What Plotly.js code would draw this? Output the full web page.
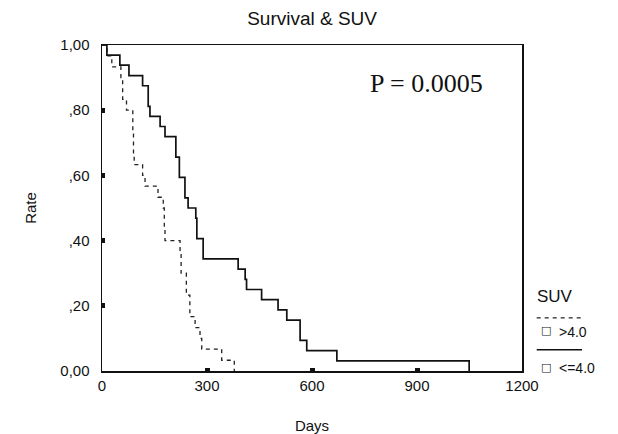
<!DOCTYPE html>
<html>
<head>
<meta charset="utf-8">
<script src="https://cdn.plot.ly/plotly-3.0.1.min.js"></script>
<style>html,body{margin:0;padding:0;background:#fff;}#chart{width:618px;height:434px;}</style>
</head>
<body>
<div id="chart"></div>
<script>
// Group SUV > 4.0 (dashed)
const daysHigh = [0, 14, 28, 54, 59, 70, 88, 90, 92, 116, 123, 160, 175, 178, 180, 223, 226, 241, 251, 266, 280, 285, 342, 378];
const rateHigh = [1.0, 0.967, 0.933, 0.9, 0.833, 0.8, 0.733, 0.667, 0.633, 0.6, 0.567, 0.533, 0.5, 0.433, 0.4, 0.367, 0.3, 0.233, 0.167, 0.133, 0.1, 0.067, 0.033, 0.0];
// Group SUV <= 4.0 (solid)
const daysLow = [0, 14, 51, 77, 116, 132, 137, 166, 180, 211, 221, 237, 246, 268, 271, 289, 389, 409, 413, 456, 503, 528, 566, 585, 671, 1049];
const rateLow = [1.0, 0.969, 0.938, 0.906, 0.875, 0.812, 0.781, 0.75, 0.719, 0.656, 0.594, 0.531, 0.5, 0.469, 0.406, 0.344, 0.3125, 0.281, 0.25, 0.219, 0.1875, 0.156, 0.094, 0.0625, 0.031, 0.0];
const yTickVals = [0, 0.2, 0.4, 0.6, 0.8, 1.0];
const yTickText = ['0,00', ',20', ',40', ',60', ',80', '1,00'];
const xTickVals = [0, 300, 600, 900, 1200];
const legendTitle = 'SUV';
const groupNames = ['>4.0', '<=4.0'];

const font = 'Liberation Sans, Arial, sans-serif';
const traces = [
  {x: daysHigh, y: rateHigh, mode: 'lines', line: {shape: 'hv', color: '#222', width: 1.3, dash: '4px,4px'}, name: groupNames[0], hoverinfo: 'x+y'},
  {x: daysLow, y: rateLow, mode: 'lines', line: {shape: 'hv', color: '#111', width: 1.7}, name: groupNames[1], hoverinfo: 'x+y'}
];
const layout = {
  width: 618, height: 434,
  margin: {l: 102, r: 96, t: 45, b: 63},
  paper_bgcolor: '#fff', plot_bgcolor: '#fff',
  showlegend: false,
  font: {family: font, color: '#111', size: 14},
  title: {text: 'Survival & SUV', x: 0.505, xref: 'container', y: 0.958, yref: 'container', xanchor: 'center', yanchor: 'middle', font: {family: font, size: 19, color: '#111'}},
  xaxis: {
    range: [0, 1200], tickvals: xTickVals, ticktext: xTickVals.map(String),
    showline: true, linecolor: '#111', linewidth: 1.5, mirror: true,
    ticks: 'inside', ticklen: 3, tickwidth: 5, tickcolor: '#111',
    showgrid: false, zeroline: false, tickfont: {size: 15, family: font},
    title: {text: 'Days', font: {size: 15, family: font}, standoff: 28}
  },
  yaxis: {
    range: [0, 1], tickvals: yTickVals, ticktext: yTickText,
    showline: true, linecolor: '#111', linewidth: 1.5, mirror: true,
    ticks: 'inside', ticklen: 3, tickwidth: 5, tickcolor: '#111',
    showgrid: false, zeroline: false, tickfont: {size: 15, family: font},
    ticklabelstandoff: 8,
    title: {text: 'Rate', font: {size: 15, family: font}, standoff: 20}
  },
  annotations: [
    {text: 'P = 0.0005', xref: 'paper', yref: 'paper', x: 0.912, y: 0.882, xanchor: 'right', yanchor: 'middle', showarrow: false, font: {family: 'Liberation Serif, Times New Roman, serif', size: 26, color: '#111'}},
    {text: legendTitle, xref: 'paper', yref: 'paper', x: 1.032, y: 0.228, xanchor: 'left', yanchor: 'middle', showarrow: false, font: {family: font, size: 17, color: '#111'}},
    {text: '\u25A1', xref: 'paper', yref: 'paper', x: 1.057, y: 0.123, xanchor: 'center', yanchor: 'middle', showarrow: false, font: {family: 'DejaVu Sans', size: 11, color: '#111'}},
    {text: groupNames[0], xref: 'paper', yref: 'paper', x: 1.083, y: 0.12, xanchor: 'left', yanchor: 'middle', showarrow: false, font: {family: font, size: 14, color: '#111'}},
    {text: '\u25A1', xref: 'paper', yref: 'paper', x: 1.057, y: 0.012, xanchor: 'center', yanchor: 'middle', showarrow: false, font: {family: 'DejaVu Sans', size: 11, color: '#111'}},
    {text: groupNames[1], xref: 'paper', yref: 'paper', x: 1.083, y: 0.009, xanchor: 'left', yanchor: 'middle', showarrow: false, font: {family: font, size: 14, color: '#111'}}
  ],
  shapes: [
    {type: 'line', xref: 'paper', yref: 'paper', x0: 1.035, x1: 1.143, y0: 0.163, y1: 0.163, line: {color: '#222', width: 1.3, dash: '4px,4px'}},
    {type: 'line', xref: 'paper', yref: 'paper', x0: 1.035, x1: 1.143, y0: 0.065, y1: 0.065, line: {color: '#111', width: 1.5}}
  ]
};
Plotly.newPlot('chart', traces, layout, {displayModeBar: false, staticPlot: true});
</script>
</body>
</html>
